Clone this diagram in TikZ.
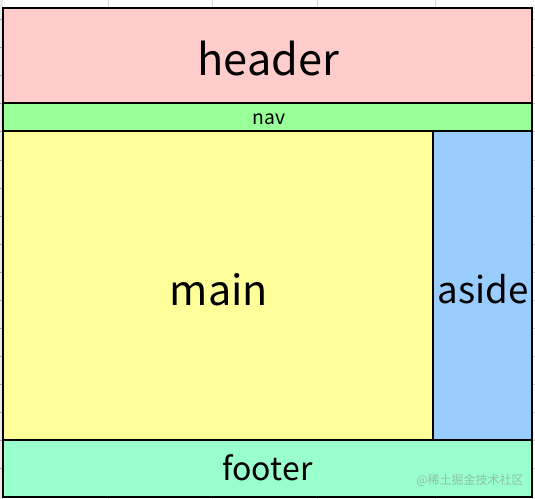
\documentclass[tikz,border=0pt]{standalone}
\usepackage{fontspec}
\setmainfont{Noto Sans CJK SC}
\newfontfamily\cjk{Noto Sans CJK SC}
\definecolor{hdr}{HTML}{FFCCCC}
\definecolor{navc}{HTML}{99FF99}
\definecolor{mainc}{HTML}{FFFF99}
\definecolor{asidec}{HTML}{99CCFF}
\definecolor{footc}{HTML}{99FFCC}
\definecolor{gridc}{HTML}{D4D4D4}
\definecolor{wmark}{HTML}{8FBFAA}
\begin{document}
\begin{tikzpicture}[x=0.75pt,y=-0.75pt,
  region/.style={draw=black,line width=1.8pt,inner sep=0pt,outer sep=0pt,anchor=north west},
  lbl/.style={anchor=base,inner sep=0pt,text=black},
  gridline/.style={draw=gridc,line width=0.6pt}]
\useasboundingbox (0,0) rectangle (535,499);
\fill[white] (0,0) rectangle (535,499);
% spreadsheet background lines
\fill[black!8] (0,0) rectangle (3,499);
\foreach \gx in {108,212,317,435}{
  \draw[gridline] (\gx,0) -- (\gx,8);
  \draw[gridline] (\gx,497) -- (\gx,499);
}
\foreach \gy in {19,47,75,103,131,160,188,216,244,272,300,328,356,384,412,440,468}{
  \draw[draw=black!35,line width=0.6pt] (0,\gy) -- (3,\gy);
  \draw[gridline] (532,\gy) -- (535,\gy);
}
% regions
\node[region,fill=hdr,minimum width=529*0.75pt,minimum height=95*0.75pt] (header) at (3,8) {};
\node[region,fill=navc,minimum width=529*0.75pt,minimum height=28*0.75pt] (nav) at (3,103) {};
\node[region,fill=mainc,minimum width=430*0.75pt,minimum height=309*0.75pt] (main) at (3,131) {};
\node[region,fill=asidec,minimum width=99*0.75pt,minimum height=309*0.75pt] (aside) at (433,131) {};
\node[region,fill=footc,minimum width=529*0.75pt,minimum height=57*0.75pt] (footer) at (3,440) {};
% labels
\node[lbl,font=\fontsize{32.5}{38}\selectfont] (tHeader) at (268.5,75.7) {header};
\node[lbl,font=\fontsize{14.5}{17}\selectfont] (tNav) at (269,124.5) {nav};
\node[lbl,font=\fontsize{31}{36}\selectfont] (tMain) at (219,305.7) {main};
\node[lbl,font=\fontsize{27.5}{32}\selectfont] (tAside) at (483,303) {aside};
\node[lbl,font=\fontsize{24}{28}\selectfont] (tFooter) at (267.5,480) {footer};
\node[lbl,font=\cjk\fontsize{9}{11}\selectfont,text=wmark] (wm) at (470,484) {@稀土掘金技术社区};
\end{tikzpicture}
\end{document}
